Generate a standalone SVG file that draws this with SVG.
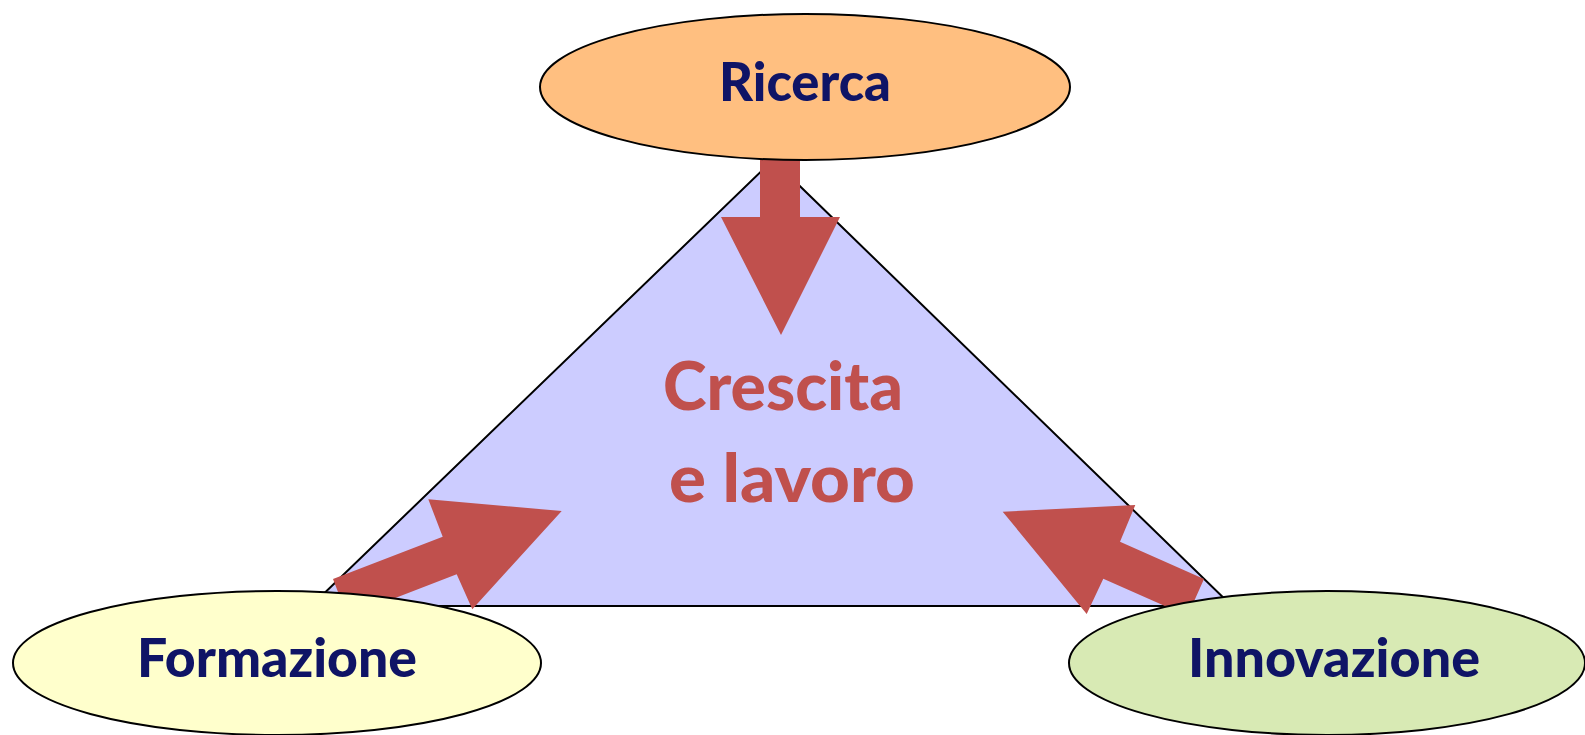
<svg xmlns="http://www.w3.org/2000/svg" width="1585" height="735" viewBox="0 0 1585 735">
<style>
.node{stroke:#000;stroke-width:2}
.lbl{font-family:Lato,"Open Sans","Liberation Sans",sans-serif;font-weight:900;font-size:53px;fill:#0F1466;text-anchor:middle}
.ctr{font-family:Lato,"Open Sans","Liberation Sans",sans-serif;font-weight:900;font-size:66px;fill:#C0504D;text-anchor:middle}
.arr{fill:#C0504D}
</style>
<rect width="1585" height="735" fill="#fff"/>
<g id="center">
<polygon points="773,160 311,606 1232,606" fill="#CCCCFF" stroke="#000" stroke-width="2"/>
<text class="ctr" x="783" y="410" textLength="240" lengthAdjust="spacingAndGlyphs">Crescita</text>
<text class="ctr" x="792" y="502" textLength="246" lengthAdjust="spacingAndGlyphs">e lavoro</text>
</g>
<g id="connectors">
<polygon class="arr" points="760,150 800,150 800,217 840,217 781,335 721,217 760,217"/>
<polygon class="arr" points="333,579 442.7,536.7 428.3,499.3 561.7,511 472.3,609.3 456.7,574.3 347.4,616.4"/>
<polygon class="arr" points="1002.7,511.7 1135.3,505 1120,541.7 1204,579 1187.5,616 1103.3,578.7 1086.7,614"/>
</g>
<g id="ricerca">
<ellipse class="node" cx="805" cy="87" rx="265" ry="73" fill="#FFBF80"/>
<text class="lbl" x="805" y="101" textLength="172" lengthAdjust="spacingAndGlyphs">Ricerca</text>
</g>
<g id="formazione">
<ellipse class="node" cx="277" cy="663" rx="264" ry="72" fill="#FFFFCC"/>
<text class="lbl" x="277" y="677" textLength="280" lengthAdjust="spacingAndGlyphs">Formazione</text>
</g>
<g id="innovazione">
<ellipse class="node" cx="1327" cy="663" rx="258" ry="72" fill="#D8EAB4"/>
<text class="lbl" x="1334" y="677" textLength="292" lengthAdjust="spacingAndGlyphs">Innovazione</text>
</g>
</svg>
